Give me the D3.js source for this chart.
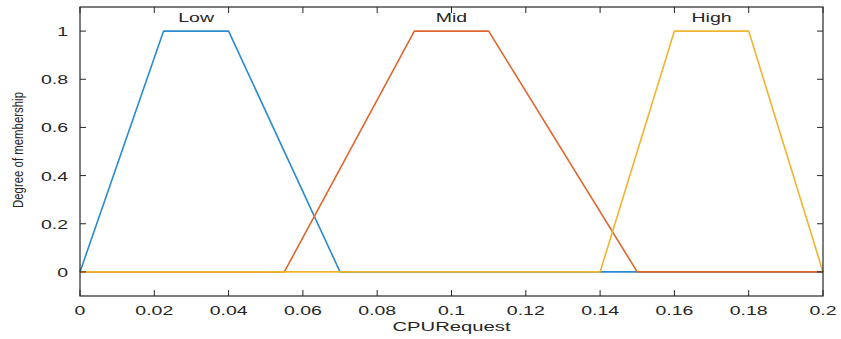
<!DOCTYPE html>
<html><head><meta charset="utf-8">
<script src="https://cdn.jsdelivr.net/npm/d3@7"></script>
<style>body{margin:0;background:#fff;} text{font-family:"Liberation Sans",Arial,Helvetica,sans-serif;fill:#262626;}</style>
</head><body>
<svg id="c" width="841" height="339"></svg>
<script>
const seriesNames = ["Low", "Mid", "High"];
const lowX = [0, 0.0225, 0.04, 0.07, 0.2];
const lowY = [0, 1, 1, 0, 0];
const midX = [0, 0.055, 0.09, 0.11, 0.15, 0.2];
const midY = [0, 0, 1, 1, 0, 0];
const highX = [0, 0.14, 0.16, 0.18, 0.2];
const highY = [0, 0, 1, 1, 0];
const labelX = [0.03125, 0.1, 0.17];
const xTicks = [0, 0.02, 0.04, 0.06, 0.08, 0.1, 0.12, 0.14, 0.16, 0.18, 0.2];
const xTickLabels = ["0", "0.02", "0.04", "0.06", "0.08", "0.1", "0.12", "0.14", "0.16", "0.18", "0.2"];
const yTicks = [0, 0.2, 0.4, 0.6, 0.8, 1];
const yTickLabels = ["0", "0.2", "0.4", "0.6", "0.8", "1"];
const colors = ["#2b8bd0", "#e0662e", "#efb52f"];
const SX = 1.5;

const svg = d3.select("#c");
const L = 80, R = 823, T = 7, B = 296;
const x = d3.scaleLinear().domain([0, 0.2]).range([L, R]);
const y = d3.scaleLinear().domain([-0.1, 1.1]).range([B, T]);

const series = [[lowX, lowY], [midX, midY], [highX, highY]];
const line = d3.line().x(d => x(d[0])).y(d => y(d[1]));
series.forEach((s, i) => {
  const pts = s[0].map((v, j) => [v, s[1][j]]);
  svg.append("path").attr("d", line(pts)).attr("fill", "none")
    .attr("stroke", colors[i]).attr("stroke-width", 1.6).attr("stroke-linejoin", "round");
});

function sText(g, px, py, str, anchor, size) {
  return g.append("text").attr("transform", `translate(${px},${py}) scale(${SX},1)`)
    .attr("text-anchor", anchor).attr("font-size", size).text(str);
}

seriesNames.forEach((n, i) => sText(svg, x(labelX[i]), 22, n, "middle", 13));

// box
const ax = "#262626";
svg.append("rect").attr("x", L).attr("y", T).attr("width", R - L).attr("height", B - T)
  .attr("fill", "none").attr("stroke", ax).attr("stroke-width", 1.2);

const tl = 6;
xTicks.forEach((t, i) => {
  const px = x(t);
  svg.append("line").attr("x1", px).attr("x2", px).attr("y1", B).attr("y2", B - tl).attr("stroke", ax);
  svg.append("line").attr("x1", px).attr("x2", px).attr("y1", T).attr("y2", T + tl).attr("stroke", ax);
  sText(svg, px, B + 19, xTickLabels[i], "middle", 13);
});
yTicks.forEach((t, i) => {
  const py = y(t);
  svg.append("line").attr("x1", L).attr("x2", L + tl).attr("y1", py).attr("y2", py).attr("stroke", ax);
  svg.append("line").attr("x1", R).attr("x2", R - tl).attr("y1", py).attr("y2", py).attr("stroke", ax);
  sText(svg, L - 12, py + 5, yTickLabels[i], "end", 13);
});

sText(svg, (L + R) / 2, 331, "CPURequest", "middle", 13.5);
svg.append("text").attr("transform", `translate(23,150) rotate(-90)`)
  .attr("text-anchor", "middle").attr("font-size", 15)
  .attr("textLength", 116).attr("lengthAdjust", "spacingAndGlyphs").text("Degree of membership");
</script>
</body></html>
